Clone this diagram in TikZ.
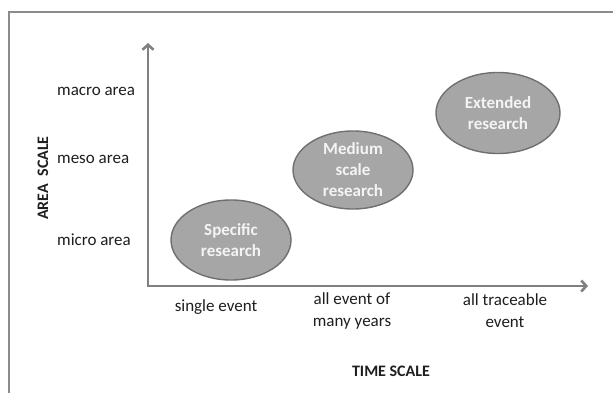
\documentclass[tikz,border=0pt]{standalone}
\usepackage{fontspec}
\setmainfont{Carlito}
\usetikzlibrary{
  shapes.geometric,
  positioning,
  arrows.meta
}

\definecolor{framegray}{RGB}{140,140,140}
\definecolor{axisgray}{RGB}{128,128,128}
\definecolor{blobfill}{RGB}{166,166,166}
\definecolor{blobedge}{RGB}{112,112,112}
\definecolor{blobtext}{RGB}{244,244,244}
\definecolor{labeltext}{RGB}{30,30,30}

\tikzset{
  axis/.style={draw=axisgray,line width=2.6pt,
    {Straight Barb[length=5pt,width=11pt,line width=2.6pt]}-{Straight Barb[length=5pt,width=11pt,line width=2.6pt]}},
  blob/.style={ellipse,draw=blobedge,line width=1.4pt,fill=blobfill,
    text=blobtext,font=\fontsize{17}{21}\selectfont\bfseries,align=center,inner sep=0pt},
  lab/.style={text=labeltext,font=\fontsize{17}{22}\selectfont,align=center,inner sep=0pt},
  title/.style={text=labeltext,font=\fontsize{16}{20}\selectfont\bfseries,inner sep=0pt}
}

\begin{document}
\begin{tikzpicture}[x=1pt,y=-1pt]
  \useasboundingbox (0,0) rectangle (613,393);
  % frame
  \draw[framegray,line width=2pt] (9,393) -- (9,12) -- (613,12);

  % axes
  \coordinate (o) at (148,286);
  \coordinate (ytip) at (148,43);
  \coordinate (xtip) at (588,286);
  \draw[axis] (ytip) -- (o) -- (xtip);

  % area scale
  \node[lab,anchor=west] (macro) at (57,91) {macro area};
  \node[lab,anchor=west] (meso) at (57,159) {meso area};
  \node[lab,anchor=west] (micro) at (57,240) {micro area};
  \node[title,rotate=90] (area) at (43,178) {AREA\ \ SCALE};

  % time scale
  \node[lab] (single) at (216,307) {single event};
  \node[lab] (many) at (352,311) {all event of\\many years};
  \node[lab] (trace) at (505,311) {all traceable\\event};
  \node[title] (time) at (391,371) {TIME SCALE};

  % research kinds
  \node[blob,minimum width=120,minimum height=80] (specific) at (231,240) {Specific\\research};
  \node[blob,minimum width=120,minimum height=78] (medium) at (353,170) {Medium\\scale\\research};
  \node[blob,minimum width=124,minimum height=81] (extended) at (498,113) {Extended\\research};
\end{tikzpicture}
\end{document}
